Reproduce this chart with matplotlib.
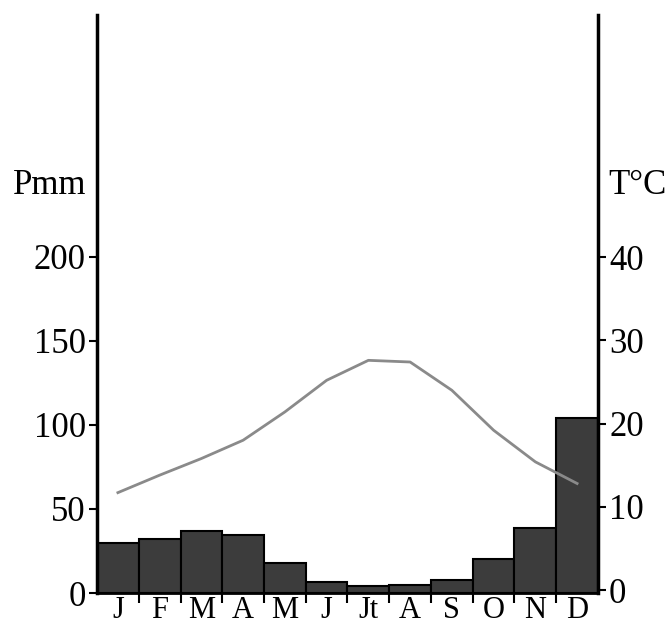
import matplotlib.pyplot as plt
import numpy as np

# monthly climate data
months = ['J', 'F', 'M', 'A', 'M', 'J', 'Jt', 'A', 'S', 'O', 'N', 'D']
precip_mm = [30, 32, 37, 34.5, 18, 6.5, 4.3, 5, 8, 20, 38.5, 104]
temp_c = [11.7, 13.8, 15.8, 18, 21.4, 25.2, 27.6, 27.4, 24, 19.2, 15.4, 12.8]

plt.rcParams['font.family'] = ['Liberation Serif', 'DejaVu Serif']

fig = plt.figure(figsize=(6.7, 6.25), dpi=100)
ax = fig.add_axes([0.1448, 0.0512, 0.7477, 0.9248])

x = np.arange(len(months))
ax.bar(x + 0.5, precip_mm, width=1.0, color='#3c3c3c', edgecolor='black', linewidth=1.5)
ax.set_xlim(0, 12)
ax.set_ylim(0, 344)
ax.set_yticks([0, 50, 100, 150, 200])
ax.tick_params(axis='y', labelsize=25, length=6, width=1.5, pad=2)

# month labels centred, tick marks on the bar edges
ax.set_xticks(x + 0.5)
ax.set_xticklabels(months)
ax.tick_params(axis='x', which='major', length=0, labelsize=22, pad=2)
ax.set_xticks(np.arange(1, 12), minor=True)
ax.tick_params(axis='x', which='minor', length=7, width=1.5)

ax.spines['top'].set_visible(False)
ax.spines['left'].set_linewidth(2.5)
ax.spines['bottom'].set_linewidth(2)
ax.spines['right'].set_visible(False)

ax2 = ax.twinx()
ax2.plot(x + 0.5, temp_c, color='#8a8a8a', linewidth=2)
ax2.set_ylim(-0.36, 69.1)
ax2.set_yticks([0, 10, 20, 30, 40])
ax2.tick_params(axis='y', labelsize=25, length=6, width=1.5, pad=2)
ax2.spines['top'].set_visible(False)
ax2.spines['left'].set_visible(False)
ax2.spines['bottom'].set_visible(False)
ax2.spines['right'].set_linewidth(2.5)

fig.text(13 / 670, 1 - 185 / 625, 'Pmm', fontsize=25, ha='left', va='center')
fig.text(608 / 670, 1 - 185 / 625, 'T°C', fontsize=25, ha='left', va='center')

fig.savefig('out.png', dpi=100)
